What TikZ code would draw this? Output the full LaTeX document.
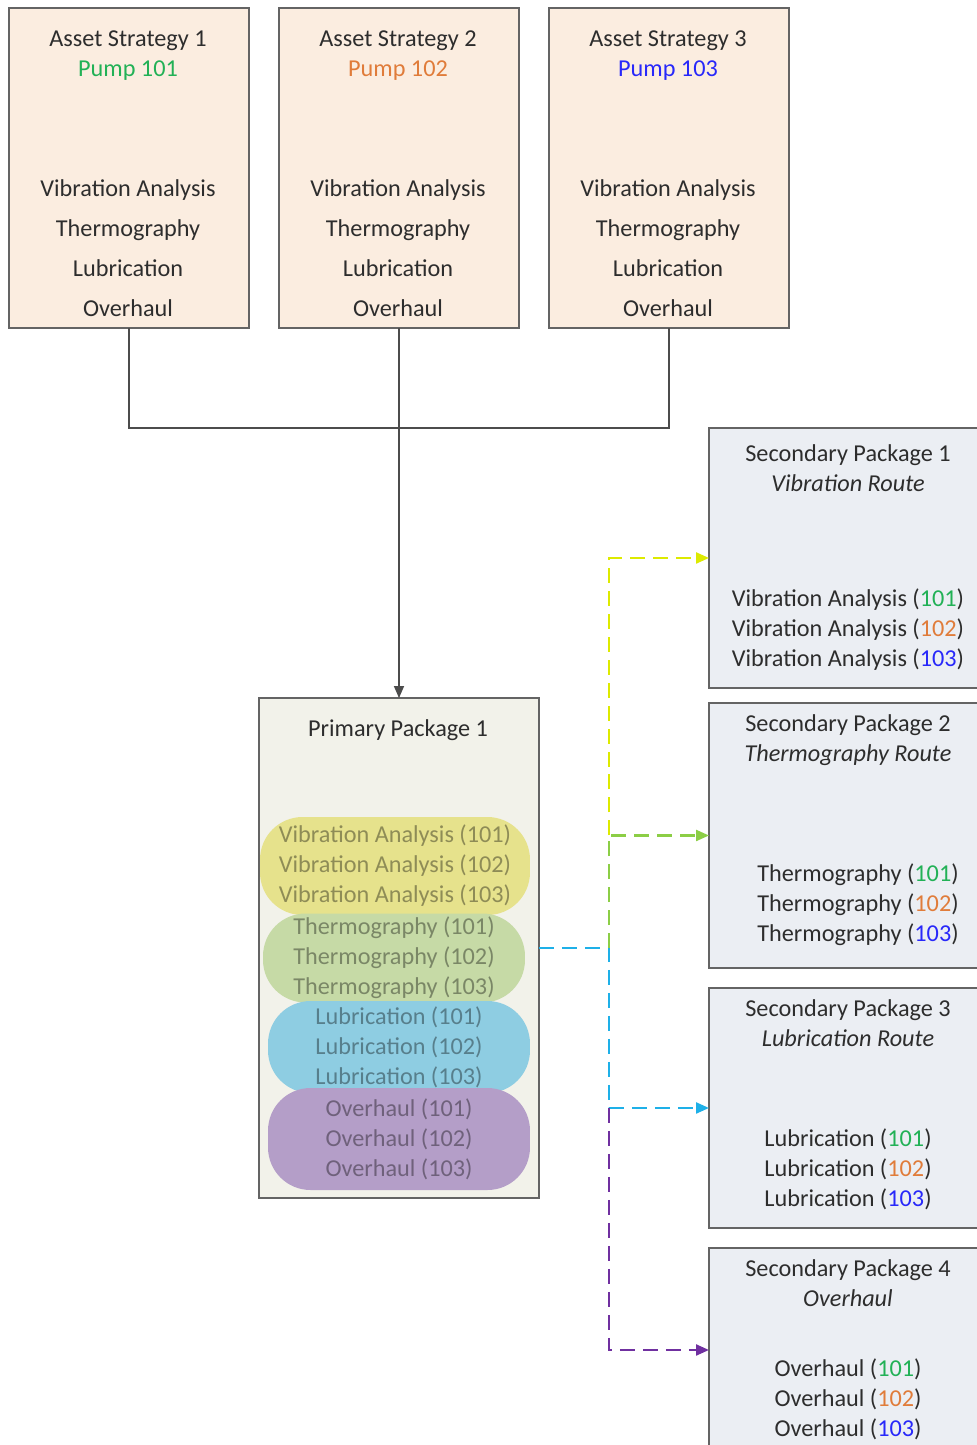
\documentclass[tikz,border=0pt]{standalone}
\usepackage{fontspec}
\setmainfont{Carlito}
\usetikzlibrary{arrows.meta}

\definecolor{assetfill}{RGB}{251,237,224}
\definecolor{primfill}{RGB}{242,242,234}
\definecolor{secfill}{RGB}{235,238,243}
\definecolor{boxline}{RGB}{100,100,100}
\definecolor{txtgray}{RGB}{45,45,45}
\definecolor{pumpA}{RGB}{34,177,86}
\definecolor{pumpB}{RGB}{224,124,58}
\definecolor{pumpC}{RGB}{40,40,250}
\definecolor{vibY}{RGB}{221,234,0}
\definecolor{thermG}{RGB}{140,206,70}
\definecolor{lubB}{RGB}{30,176,232}
\definecolor{ovhP}{RGB}{112,48,160}
\definecolor{blobY}{RGB}{230,226,140}
\definecolor{blobG}{RGB}{198,218,166}
\definecolor{blobB}{RGB}{142,205,226}
\definecolor{blobP}{RGB}{180,158,200}

\begin{document}
\begin{tikzpicture}[x=0.02cm, y=-0.02cm, inner sep=0, outer sep=0,
  font=\fontsize{13.8}{17.07}\selectfont, text=txtgray,
  box/.style={rectangle, draw=boxline, line width=1.1pt},
  txt/.style={anchor=base, align=center},
  list/.style={anchor=base, align=center, font=\fontsize{13.8}{22.76}\selectfont},
  blob/.style={rectangle, rounded corners=0.85cm, align=center, text=black, text opacity=0.38},
  conn/.style={draw=black!70, line width=0.8pt},
  route/.style={dash pattern=on 0.3cm off 0.16cm, line width=1.3pt, -{Triangle[length=0.26cm, width=0.22cm]}}]
  \useasboundingbox (0,0) rectangle (977,1445);

  % asset strategies (text nodes sit on their last baseline)
  \node[box, fill=assetfill, minimum width=4.8cm, minimum height=6.4cm] (as1) at (129,168) {};
  \node[box, fill=assetfill, minimum width=4.8cm, minimum height=6.4cm] (as2) at (399,168) {};
  \node[box, fill=assetfill, minimum width=4.8cm, minimum height=6.4cm] (as3) at (669,168) {};

  \node[txt] (as1t) at (128,76) {Asset Strategy 1\\\textcolor{pumpA}{Pump 101}};
  \node[txt] (as2t) at (398,76) {Asset Strategy 2\\\textcolor{pumpB}{Pump 102}};
  \node[txt] (as3t) at (668,76) {Asset Strategy 3\\\textcolor{pumpC}{Pump 103}};

  \node[list] (as1l) at (128,316) {Vibration Analysis\\Thermography\\Lubrication\\Overhaul};
  \node[list] (as2l) at (398,316) {Vibration Analysis\\Thermography\\Lubrication\\Overhaul};
  \node[list] (as3l) at (668,316) {Vibration Analysis\\Thermography\\Lubrication\\Overhaul};

  % primary package
  \node[box, fill=primfill, minimum width=5.6cm, minimum height=10cm] (pp) at (399,948) {};
  \node[txt] (ppt) at (398,736) {Primary Package 1};

  \node[blob, fill=blobY, minimum width=5.4cm, minimum height=1.96cm] (vib) at (395,866)
    {Vibration Analysis (101)\\Vibration Analysis (102)\\Vibration Analysis (103)};
  \node[blob, fill=blobG, minimum width=5.24cm, minimum height=1.78cm] (therm) at (394,958)
    {Thermography (101)\\Thermography (102)\\Thermography (103)};
  \node[blob, fill=blobB, minimum width=5.24cm, minimum height=1.84cm] (lub) at (399,1047)
    {Lubrication (101)\\Lubrication (102)\\Lubrication (103)};
  \node[blob, fill=blobP, minimum width=5.24cm, minimum height=2.04cm] (ovh) at (399,1139)
    {Overhaul (101)\\Overhaul (102)\\Overhaul (103)};

  % secondary packages
  \node[box, fill=secfill, minimum width=6cm, minimum height=5.2cm, anchor=north west] (sec1) at (709,428) {};
  \node[box, fill=secfill, minimum width=6cm, minimum height=5.3cm, anchor=north west] (sec2) at (709,703) {};
  \node[box, fill=secfill, minimum width=6cm, minimum height=4.8cm, anchor=north west] (sec3) at (709,988) {};
  \node[box, fill=secfill, minimum width=6cm, minimum height=4.08cm, anchor=north west] (sec4) at (709,1248) {};

  \node[txt] (sec1t) at (848,491) {Secondary Package 1\\\textit{Vibration Route}};
  \node[txt] (sec2t) at (848,761) {Secondary Package 2\\\textit{Thermography Route}};
  \node[txt] (sec3t) at (848,1046) {Secondary Package 3\\\textit{Lubrication Route}};
  \node[txt] (sec4t) at (848,1306) {Secondary Package 4\\\textit{Overhaul}};

  \node[txt] (sec1l) at (848,666) {Vibration Analysis (\textcolor{pumpA}{101})\\Vibration Analysis (\textcolor{pumpB}{102})\\Vibration Analysis (\textcolor{pumpC}{103})};
  \node[txt] (sec2l) at (858,941) {Thermography (\textcolor{pumpA}{101})\\Thermography (\textcolor{pumpB}{102})\\Thermography (\textcolor{pumpC}{103})};
  \node[txt] (sec3l) at (848,1206) {Lubrication (\textcolor{pumpA}{101})\\Lubrication (\textcolor{pumpB}{102})\\Lubrication (\textcolor{pumpC}{103})};
  \node[txt] (sec4l) at (848,1436) {Overhaul (\textcolor{pumpA}{101})\\Overhaul (\textcolor{pumpB}{102})\\Overhaul (\textcolor{pumpC}{103})};

  % strategies into primary
  \coordinate (bus) at (399,428);
  \draw[conn] (as1.south) |- (bus) -| (as3.south);
  \draw[conn, -{Triangle[length=0.24cm, width=0.2cm]}] (as2.south) -- (pp.north);

  % primary into routes
  \coordinate (jB) at (609,948);
  \coordinate (jG) at (jB |- sec2.west);
  \coordinate (jL) at (jB |- sec3.west);
  \draw[route, lubB] (pp.east) -- (jB) |- (sec3.west);
  \draw[route, thermG] (jB) |- (sec2.west);
  \draw[route, vibY] (jG) |- (sec1.west);
  \draw[route, ovhP] (jL) |- (sec4.west);
\end{tikzpicture}
\end{document}
